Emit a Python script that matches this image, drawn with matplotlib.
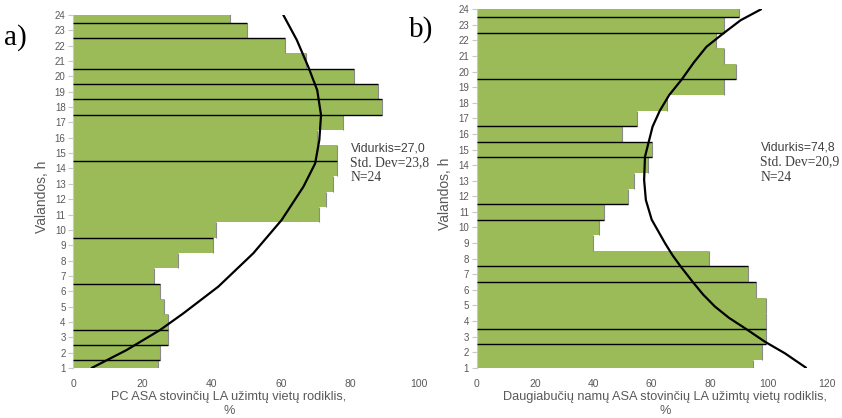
import matplotlib
matplotlib.use("Agg")
import matplotlib.pyplot as plt
import numpy as np

# ---------------- data ----------------
hours = list(range(1, 25))

pc_values = [24.4, 25.2, 27.3, 27.3, 26.1, 25.2, 23.4, 30.3, 40.3, 41.2, 71.1, 72.9,
             75.1, 76.1, 76.1, 70.5, 78.0, 89.1, 88.0, 81.1, 67.2, 61.2, 50.1, 45.3]
mf_values = [94.8, 97.9, 99.1, 99.1, 99.1, 95.8, 92.9, 79.7, 40.0, 42.0, 43.7, 51.8,
             54.0, 58.8, 60.0, 49.9, 55.1, 65.1, 84.9, 88.8, 84.9, 81.9, 84.9, 90.0]

# fitted curve (hour, value)
pc_curve_h = [1.0, 2.17, 3.48, 4.56, 6.3, 8.47, 10.64, 12.81, 14.33, 15.85, 17.48, 19.1, 20.63, 22.37, 24.0]
pc_curve_v = [5.3, 15.4, 25.1, 31.8, 41.9, 52.0, 60.2, 66.5, 69.9, 71.1, 71.6, 70.5, 67.9, 64.6, 60.7]
mf_curve_h = [1.0, 1.92, 2.67, 3.53, 4.2, 4.92, 5.7, 6.52, 7.48, 8.2, 8.98, 10.5, 11.76, 13.05,
              14.54, 16.47, 17.5, 18.5, 19.5, 20.6, 21.6, 22.46, 23.3, 24.0]
mf_curve_v = [112.9, 105.7, 98.8, 92.0, 86.5, 81.7, 77.6, 74.0, 70.0, 67.2, 64.6, 60.0, 58.0, 57.4,
              57.7, 60.3, 62.8, 66.0, 70.3, 74.5, 78.8, 84.6, 90.5, 97.5]

# bars whose top / bottom edge is drawn as a black line
pc_top_edges = [3, 6, 9, 14, 18, 19, 20, 22, 23]
pc_bottom_edges = [2, 3, 18]
mf_top_edges = [3, 6, 7, 15]
mf_bottom_edges = [3, 11, 12, 15, 17, 20, 23, 24]

pc_xticks = [0, 20, 40, 60, 80, 100]
mf_xticks = [0, 20, 40, 60, 80, 100, 120]

pc_stats = ["Vidurkis=27,0", "Std. Dev=23,8", "N=24"]
mf_stats = ["Vidurkis=74,8", "Std. Dev=20,9", "N=24"]

pc_xlabel = "PC ASA stovinčių LA užimtų vietų rodiklis,\n%"
mf_xlabel = "Daugiabučių namų ASA stovinčių LA užimtų vietų rodiklis,\n%"
ylabel = "Valandos, h"

# ---------------- style ----------------
W, H = 842, 418
GREEN = "#9BBB59"
GRAY_TXT = "#595959"
SANS = ["Liberation Sans", "DejaVu Sans"]
SERIF = ["Liberation Serif", "DejaVu Serif"]

fig = plt.figure(figsize=(W / 100, H / 100), dpi=100)


def px_ax(l, t, r, b):
    return fig.add_axes([l / W, 1 - b / H, (r - l) / W, (b - t) / H])


def draw_panel(ax, vals, top_e, bot_e, ch, cv, xmax, xticks):
    ax.barh(hours, vals, height=1.0, color=GREEN, edgecolor="none", zorder=1)
    h = np.array(hours)
    v = np.array(vals)
    ax.vlines(v, h - 0.5, h + 0.5, color="#8a8a8a", lw=0.8, zorder=2)
    ax.hlines([t + 0.5 for t in top_e], 0, [vals[t - 1] for t in top_e],
              color="black", lw=1.0, zorder=3)
    ax.hlines([b - 0.5 for b in bot_e], 0, [vals[b - 1] for b in bot_e],
              color="black", lw=1.0, zorder=3)
    ax.plot(cv, ch, color="black", lw=1.6, zorder=4, solid_capstyle="round",
            solid_joinstyle="round")
    ax.set_xlim(0, xmax)
    ax.set_ylim(1, 24)
    ax.set_yticks(hours)
    ax.set_xticks(xticks)
    for s in ["top", "right", "bottom"]:
        ax.spines[s].set_visible(False)
    ax.spines["left"].set_color("#c8c8c8")
    ax.spines["left"].set_linewidth(0.8)
    ax.tick_params(axis="y", length=3.5, width=0.8, color="#c8c8c8",
                   labelsize=7, labelcolor=GRAY_TXT, pad=2)
    ax.tick_params(axis="x", length=0, labelsize=7.5, labelcolor=GRAY_TXT, pad=8)
    for lab in ax.get_xticklabels() + ax.get_yticklabels():
        lab.set_family(SANS)


ax1 = px_ax(73.3, 15, 419.3, 368)
draw_panel(ax1, pc_values, pc_top_edges, pc_bottom_edges, pc_curve_h, pc_curve_v, 100, pc_xticks)
ax2 = px_ax(476.7, 9.3, 826.7, 367.7)
draw_panel(ax2, mf_values, mf_top_edges, mf_bottom_edges, mf_curve_h, mf_curve_v, 120, mf_xticks)


def ftext(x, y, s, **kw):
    fig.text(x / W, 1 - y / H, s, **kw)


# axis labels
ftext(229, 404, pc_xlabel, ha="center", va="center", fontsize=9.2, color=GRAY_TXT,
      family=SANS, linespacing=1.2)
ftext(665, 404, mf_xlabel, ha="center", va="center", fontsize=9.2, color=GRAY_TXT,
      family=SANS, linespacing=1.2)
ftext(42.5, 197, ylabel, ha="center", va="center", rotation=90, fontsize=10,
      color=GRAY_TXT, family=SANS)
ftext(445, 194, ylabel, ha="center", va="center", rotation=90, fontsize=10,
      color=GRAY_TXT, family=SANS)

# stats text
for (x0, ys), stats in [((350.5, (148, 163, 177)), pc_stats), ((760.5, (147, 162, 177)), mf_stats)]:
    ftext(x0, ys[0], stats[0], ha="left", va="center", fontsize=8.8, color="#404040", family=SANS)
    ftext(x0, ys[1], stats[1], ha="left", va="center", fontsize=9.8, color="#404040", family=SERIF)
    ftext(x0, ys[2], stats[2], ha="left", va="center", fontsize=9.8, color="#404040", family=SERIF)

# panel letters
ftext(4, 38, "a)", ha="left", va="center", fontsize=21, color="black", family=SERIF)
ftext(409, 30, "b)", ha="left", va="center", fontsize=21, color="black", family=SERIF)

fig.savefig("out.png", dpi=100)
